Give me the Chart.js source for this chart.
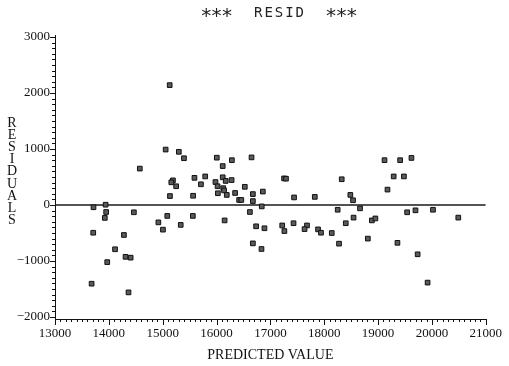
<!DOCTYPE html>
<html>
<head>
<meta charset="utf-8">
<script src="https://cdn.jsdelivr.net/npm/chart.js"></script>
<style>
  html, body { margin: 0; padding: 0; background: #fff; }
  #wrap { width: 509px; height: 366px; }
</style>
</head>
<body>
<div id="wrap"><canvas id="residPlot"></canvas></div>
<script>
// predicted value (x) and residual (y)
const predicted = [
  15130, 15055, 15300, 15395, 14575, 15190, 15160, 15250, 15590, 15790,
  15710, 15135, 15565, 13940, 13715, 13950, 13925, 14465, 15085, 15560,
  14920, 15005, 15335, 13710, 14280, 14115, 14310, 14405, 13970, 13680,
  14365, 16005, 16285, 16650, 16115, 16115, 15980, 16170, 16280, 16020,
  16125, 16140, 16025, 16190, 16345, 16525, 16420, 16460, 16675, 16675,
  16860, 16840, 16620, 17255, 17290, 17440, 17825, 18325, 16150, 16735,
  16890, 17220, 17260, 17430, 17680, 17635, 17885, 17940, 18140, 18275,
  18250, 16675, 16835, 19120, 19410, 19620, 19290, 19480, 19175, 18485,
  18535, 18665, 19540, 19695, 20020, 20490, 18545, 18400, 18885, 18950,
  18810, 19360, 19735, 19920
];
const residuals = [
  2140, 990, 950, 835, 650, 440, 405, 335, 485, 510,
  370, 160, 165, 5, -40, -125, -230, -130, -195, -195,
  -310, -440, -355, -495, -535, -790, -925, -940, -1020, -1405,
  -1560, 845, 800, 850, 695, 495, 410, 430, 445, 335,
  300, 260, 210, 180, 215, 325, 90, 90, 195, 70,
  240, -25, -125, 475, 470, 135, 145, 460, -275, -380,
  -415, -365, -465, -325, -365, -430, -435, -495, -500, -690,
  -85, -685, -785, 800, 800, 840, 510, 510, 275, 180,
  85, -60, -130, -95, -85, -225, -225, -325, -275, -240,
  -600, -675, -880, -1385
];
const zeroLineX = [13000, 21000];
const xRange = [13000, 21000];
const yRange = [-2035, 3035];
const xTickValues = [13000, 14000, 15000, 16000, 17000, 18000, 19000, 20000, 21000];
const yTickValues = [-2000, -1000, 0, 1000, 2000, 3000];

const points = predicted.map((x, i) => ({ x: x, y: residuals[i] }));
const zeroLine = zeroLineX.map(x => ({ x: x, y: 0 }));

const serif = '"Liberation Serif", "DejaVu Serif", serif';

// minor/major tick marks, title and stacked y label
const decorations = {
  id: 'decorations',
  afterDraw(chart) {
    const ctx = chart.ctx;
    const xs = chart.scales.x, ys = chart.scales.y;
    const area = chart.chartArea;
    ctx.save();
    ctx.strokeStyle = '#111';
    ctx.lineWidth = 1;
    ctx.beginPath();
    for (let v = xRange[0]; v <= xRange[1]; v += 100) {
      const px = Math.round(xs.getPixelForValue(v)) + 0.5;
      const len = v % 1000 === 0 ? 6 : 3;
      ctx.moveTo(px, area.bottom);
      ctx.lineTo(px, area.bottom + len);
    }
    for (let v = -2000; v <= 3000; v += 100) {
      const py = Math.round(ys.getPixelForValue(v)) + 0.5;
      const len = v % 1000 === 0 ? 5 : 3;
      ctx.moveTo(area.left - len, py);
      ctx.lineTo(area.left, py);
    }
    ctx.stroke();

    // title
    ctx.fillStyle = '#222';
    ctx.textBaseline = 'middle';
    ctx.textAlign = 'center';
    const title = '***  RESID  ***';
    const pitch = 10.4;
    const x0 = 279 - (title.length - 1) * pitch / 2;
    for (let i = 0; i < title.length; i++) {
      const ch = title[i];
      if (ch === '*') {
        ctx.font = '20px "DejaVu Sans Mono", monospace';
        ctx.fillText(ch, x0 + i * pitch, 17);
      } else {
        ctx.font = '14px "DejaVu Sans Mono", monospace';
        ctx.fillText(ch, x0 + i * pitch, 13);
      }
    }

    // stacked y axis label
    ctx.fillStyle = '#111';
    ctx.font = '14px ' + serif;
    const word = 'RESIDUALS';
    for (let i = 0; i < word.length; i++) {
      ctx.fillText(word[i], 12, 123 + i * 12.2);
    }
    ctx.restore();
  }
};

new Chart(document.getElementById('residPlot'), {
  type: 'scatter',
  data: {
    datasets: [
      {
        label: 'resid',
        data: points,
        pointStyle: 'rect',
        pointRadius: 3.3,
        pointBackgroundColor: '#5a5a5a',
        pointBorderColor: '#111',
        pointBorderWidth: 1,
        order: 1
      },
      {
        type: 'line',
        label: 'zero',
        data: zeroLine,
        borderColor: '#1a1a1a',
        borderWidth: 1.5,
        pointRadius: 0,
        order: 2
      }
    ]
  },
  options: {
    responsive: true,
    maintainAspectRatio: false,
    animation: false,
    layout: { padding: { top: 35, right: 14, left: 0, bottom: 0 } },
    plugins: {
      legend: { display: false },
      tooltip: { enabled: false }
    },
    scales: {
      x: {
        type: 'linear',
        min: xRange[0],
        max: xRange[1],
        afterBuildTicks(scale) { scale.ticks = xTickValues.map(v => ({ value: v })); },
        afterFit(scale) { scale.height = 47; },
        grid: { display: false, drawTicks: false },
        border: { display: true, color: '#111', width: 1 },
        ticks: {
          padding: 7,
          color: '#111',
          font: { family: serif, size: 13 },
          maxRotation: 0,
          autoSkip: false,
          callback: v => String(v)
        },
        title: {
          display: true,
          text: 'PREDICTED VALUE',
          color: '#111',
          font: { family: serif, size: 14 },
          padding: { top: 4, bottom: 2 }
        }
      },
      y: {
        type: 'linear',
        min: yRange[0],
        max: yRange[1],
        afterBuildTicks(scale) { scale.ticks = yTickValues.map(v => ({ value: v })); },
        afterFit(scale) { scale.width = 55; },
        grid: { display: false, drawTicks: false },
        border: { display: true, color: '#111', width: 1 },
        ticks: {
          padding: 5,
          color: '#111',
          font: { family: serif, size: 13 },
          autoSkip: false,
          callback: v => (v < 0 ? '\u2212' + Math.abs(v) : String(v))
        }
      }
    }
  },
  plugins: [decorations]
});
</script>
</body>
</html>
